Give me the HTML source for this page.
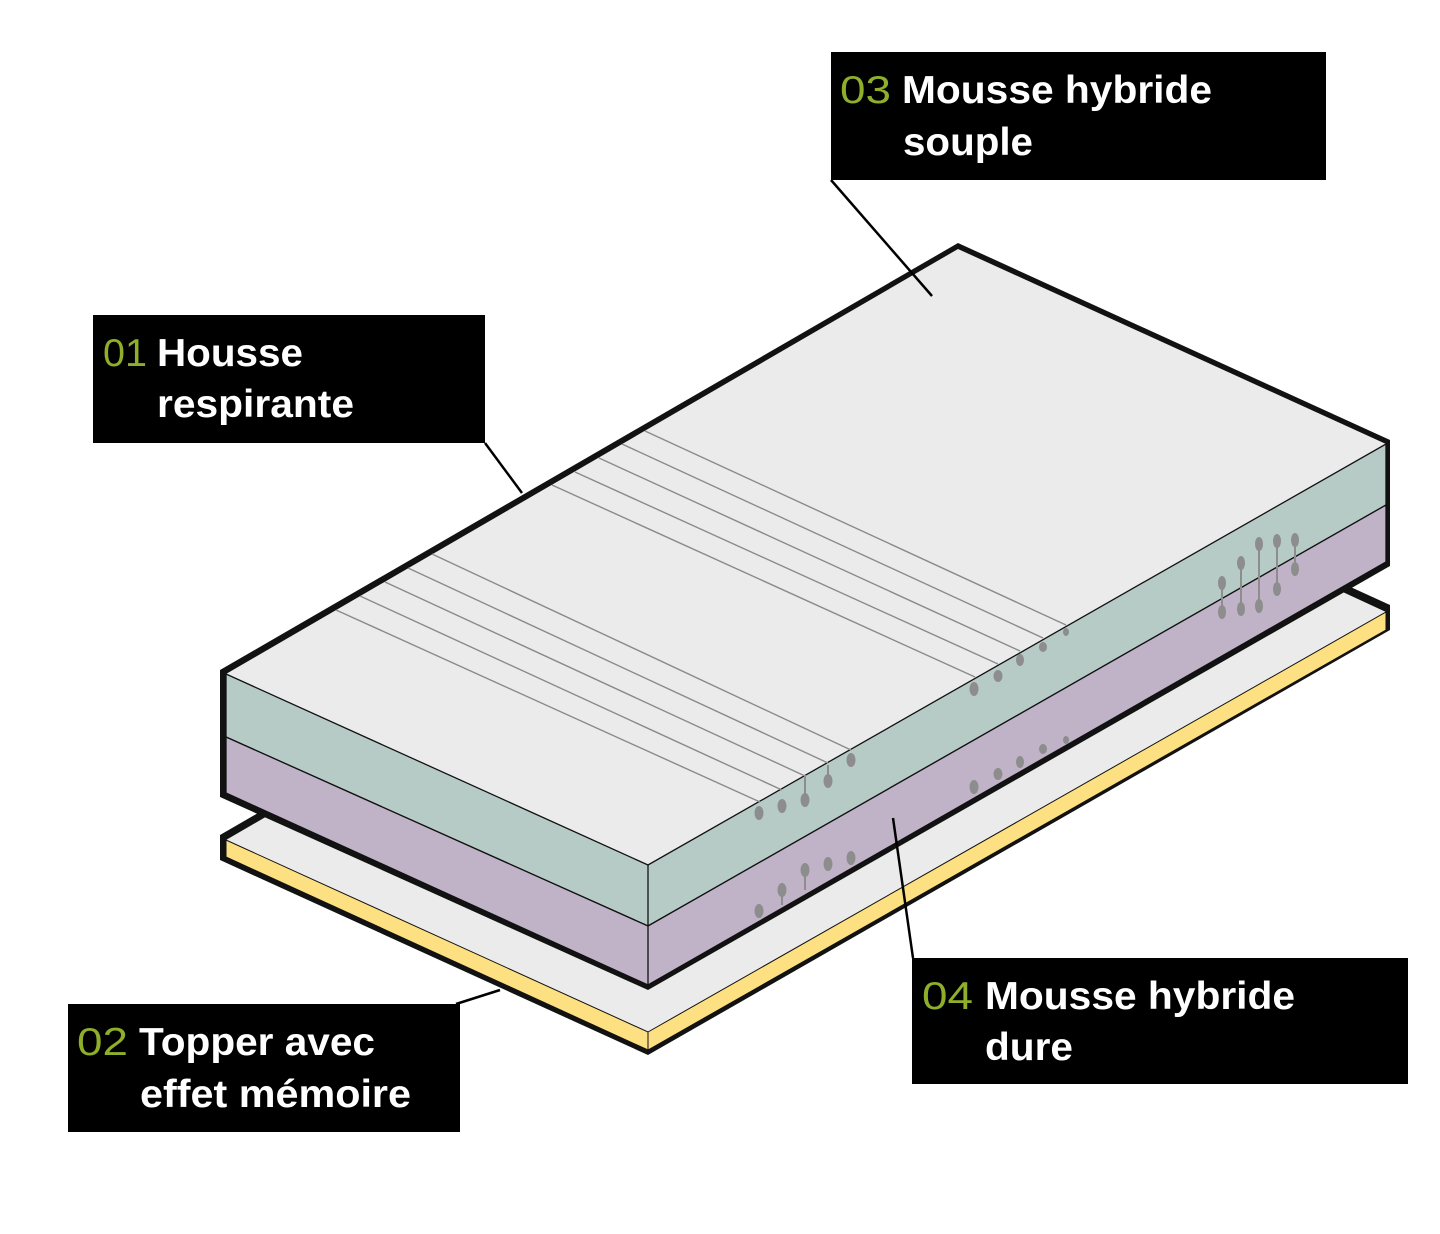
<!DOCTYPE html>
<html><head><meta charset="utf-8"><style>
body{margin:0;background:#fff;}
svg{display:block}
text{font-family:"Liberation Sans",sans-serif;font-size:39px;fill:#fff;font-weight:bold}
.n{fill:#8fae2a;font-weight:normal}
</style></head><body>
<svg width="1440" height="1234" viewBox="0 0 1440 1234">
<polygon points="220,835 958,408 1390,605 1390,630 648,1055 220,860" fill="#121212"/>
<polygon points="226,840 958,414 1386,612 648,1032" fill="#ebebeb"/>
<polygon points="226,840 648,1032 1386,612 1386,630 648,1050 226,857" fill="#fde082" stroke="#111" stroke-width="1"/>
<line x1="648" y1="1032" x2="648" y2="1050" stroke="#111" stroke-width="1"/>
<polygon points="220,670 958,243 1390,440 1390,566 648,990 220,797" fill="#121212"/>
<polygon points="226,674 958,249 1386,444 648,865" fill="#ebebeb"/>
<polygon points="226,674 648,865 1386,444 1386,505 648,926 226,737" fill="#b7cbc6" stroke="#111" stroke-width="1.3"/>
<polygon points="226,737 648,926 1386,505 1386,562 648,985 226,793" fill="#c0b3c7" stroke="#111" stroke-width="1.3"/>
<line x1="648" y1="865" x2="648" y2="985" stroke="#111" stroke-width="1.3"/>
<g stroke="#8a8a8a" stroke-width="1.4">
<line x1="336" y1="610" x2="760" y2="802"/>
<line x1="360" y1="596" x2="782" y2="790"/>
<line x1="385" y1="582" x2="805" y2="776"/>
<line x1="408" y1="568" x2="828" y2="763"/>
<line x1="432" y1="554" x2="851" y2="750"/>
<line x1="552" y1="485" x2="975" y2="677"/>
<line x1="575" y1="472" x2="998" y2="664"/>
<line x1="599" y1="458" x2="1020" y2="651"/>
<line x1="622" y1="444" x2="1043" y2="638"/>
<line x1="645" y1="431" x2="1066" y2="625"/>
</g>
<g fill="#8d8d8d" stroke="#8d8d8d" stroke-width="2">
<ellipse cx="759" cy="813" rx="3.5" ry="6"/><ellipse cx="782" cy="806" rx="3.5" ry="6"/><ellipse cx="805" cy="800" rx="3.5" ry="6"/><ellipse cx="828" cy="781" rx="3.5" ry="6"/><ellipse cx="851" cy="760" rx="3.5" ry="6"/>
<line x1="805" y1="775" x2="805" y2="800"/><line x1="828" y1="765" x2="828" y2="781"/>
<ellipse cx="759" cy="911" rx="3.5" ry="6"/><ellipse cx="782" cy="890" rx="3.5" ry="6"/><ellipse cx="805" cy="870" rx="3.5" ry="6"/><ellipse cx="828" cy="864" rx="3.5" ry="6"/><ellipse cx="851" cy="858" rx="3.5" ry="6"/>
<line x1="782" y1="890" x2="782" y2="905"/><line x1="805" y1="870" x2="805" y2="890"/>
<ellipse cx="974" cy="689" rx="3.5" ry="6"/><ellipse cx="998" cy="676" rx="3.5" ry="5"/><ellipse cx="1020" cy="660" rx="3" ry="5"/><ellipse cx="1043" cy="647" rx="3" ry="4"/><ellipse cx="1066" cy="632" rx="2" ry="3"/>
<ellipse cx="974" cy="787" rx="3.5" ry="6"/><ellipse cx="998" cy="774" rx="3.5" ry="5"/><ellipse cx="1020" cy="762" rx="3" ry="5"/><ellipse cx="1043" cy="749" rx="3" ry="4"/><ellipse cx="1066" cy="740" rx="2" ry="3"/>
<ellipse cx="1222" cy="583" rx="3" ry="6"/><ellipse cx="1222" cy="612" rx="3" ry="6"/><line x1="1222" y1="583" x2="1222" y2="612"/>
<ellipse cx="1241" cy="563" rx="3" ry="6"/><ellipse cx="1241" cy="609" rx="3" ry="6"/><line x1="1241" y1="563" x2="1241" y2="609"/>
<ellipse cx="1259" cy="544" rx="3" ry="6"/><ellipse cx="1259" cy="606" rx="3" ry="6"/><line x1="1259" y1="544" x2="1259" y2="606"/>
<ellipse cx="1277" cy="541" rx="3" ry="6"/><ellipse cx="1277" cy="589" rx="3" ry="6"/><line x1="1277" y1="541" x2="1277" y2="589"/>
<ellipse cx="1295" cy="540" rx="3" ry="6"/><ellipse cx="1295" cy="569" rx="3" ry="6"/><line x1="1295" y1="540" x2="1295" y2="569"/>
</g>
<g stroke="#000" stroke-width="2.5">
<line x1="485" y1="443" x2="522" y2="493"/>
<line x1="831" y1="180" x2="932" y2="296"/>
<line x1="456" y1="1004" x2="500" y2="990"/>
<line x1="893" y1="818" x2="913" y2="958"/>
</g>
<rect x="93" y="315" width="392" height="128" fill="#000"/>
<text x="103" y="366" class="n" textLength="44" lengthAdjust="spacingAndGlyphs">01</text><text x="157" y="366" textLength="146" lengthAdjust="spacingAndGlyphs">Housse</text><text x="157" y="417" textLength="197" lengthAdjust="spacingAndGlyphs">respirante</text>
<rect x="831" y="52" width="495" height="128" fill="#000"/>
<text x="840" y="103" class="n" textLength="51" lengthAdjust="spacingAndGlyphs">03</text><text x="902" y="103" textLength="310" lengthAdjust="spacingAndGlyphs">Mousse hybride</text><text x="903" y="155" textLength="130" lengthAdjust="spacingAndGlyphs">souple</text>
<rect x="68" y="1004" width="392" height="128" fill="#000"/>
<text x="77" y="1055" class="n" textLength="51" lengthAdjust="spacingAndGlyphs">02</text><text x="139" y="1055" textLength="236" lengthAdjust="spacingAndGlyphs">Topper avec</text><text x="140" y="1107" textLength="271" lengthAdjust="spacingAndGlyphs">effet mémoire</text>
<rect x="912" y="958" width="496" height="126" fill="#000"/>
<text x="922" y="1009" class="n" textLength="51" lengthAdjust="spacingAndGlyphs">04</text><text x="985" y="1009" textLength="310" lengthAdjust="spacingAndGlyphs">Mousse hybride</text><text x="985" y="1060" textLength="88" lengthAdjust="spacingAndGlyphs">dure</text>
</svg>
</body></html>
